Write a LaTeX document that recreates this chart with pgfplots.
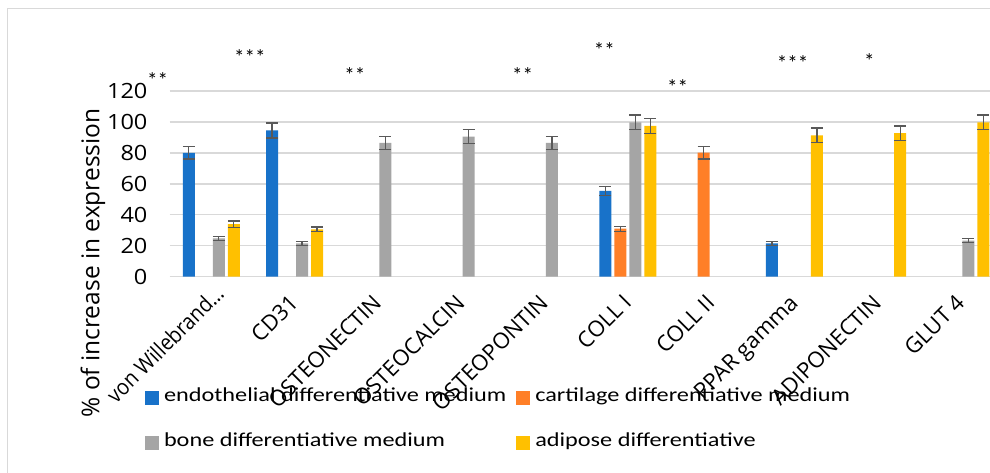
\documentclass[border=0pt]{standalone}
\usepackage{fontspec}
\setmainfont{Open Sans}
\newfontfamily\legfont{Carlito}[FakeStretch=1.225]
\newfontfamily\astfont{Carlito}
\newfontfamily\numfont{Open Sans}[FakeStretch=1.12]
\newfontfamily\narrowfont{Open Sans}[FakeStretch=0.9]
\usepackage{pgfplots}
\pgfplotsset{compat=1.18}
\definecolor{cblue}{RGB}{24,114,201}
\definecolor{corange}{RGB}{255,127,39}
\definecolor{cgray}{RGB}{165,165,165}
\definecolor{cyellow}{RGB}{255,192,0}
\definecolor{errgray}{RGB}{89,89,89}
\definecolor{gridgray}{RGB}{217,217,217}
\definecolor{framegray}{RGB}{217,217,217}
\newcommand{\vwlabel}{{\narrowfont von Willebrand\char"2026}\hspace*{-13pt}}
\begin{document}
\begin{tikzpicture}
\path[use as bounding box] (0,0) rectangle (990pt,472pt);
\clip (0,0) rectangle (990pt,472pt);
\fill[white] (0,0) rectangle (990pt,472pt);
\draw[framegray, line width=1.3pt] (7.3pt,-20pt) rectangle (1010pt,463.7pt);
\begin{axis}[
  at={(169.6pt,195.3pt)}, anchor=south west,
  scale only axis, width=833pt, height=185.7pt,
  xmin=-0.5, xmax=9.5, ymin=0, ymax=120,
  clip=false,
  ybar=3pt, bar width=12pt,
  ytick={0,20,40,60,80,100,120},
  xtick={0,1,2,3,4,5,6,7,8,9},
  xticklabels={\vwlabel, CD31, OSTEONECTIN, OSTEOCALCIN, OSTEOPONTIN, COLL I, COLL II, PPAR gamma, ADIPONECTIN, GLUT 4},
  xticklabel style={font=\fontsize{22pt}{26pt}\selectfont, inner sep=0pt, xshift=5pt, yshift=-27.5pt, rotate=45, anchor=base east},
  yticklabel style={font=\numfont\fontsize{21pt}{24pt}\selectfont, inner sep=0pt, anchor=east, xshift=-22pt},
  /pgf/number format/assume math mode=true,
  ymajorgrids, major grid style={gridgray, line width=1.3pt},
  axis line style={draw=none}, major tick length=0pt, tick style={draw=none},
  ylabel={\% of increase in expression},
  ylabel style={at={(axis description cs:-0.092,0.074)}, anchor=center, inner sep=0pt, font=\fontsize{24.5pt}{28pt}\selectfont},
  legend columns=2,
  legend cell align=left,
  legend image code/.code={\fill[#1,draw=none] (0pt,-7pt) rectangle (14pt,7pt);},
  legend style={at={(-0.02953,-0.6139)}, anchor=north west, draw=none, fill=none, inner sep=0pt, outer sep=0pt,
    row sep=31.3pt,
    nodes={inner sep=0pt, text height=0.7em, text depth=0pt, font=\legfont\fontsize{19.8pt}{24pt}\selectfont},
    /tikz/every odd column/.append style={column sep=5pt},
    /tikz/every even column/.append style={column sep=10pt}},
  error bars/y dir=both, error bars/y explicit,
  error bars/error bar style={errgray, line width=1.3pt},
  error bars/error mark options={errgray, line width=1.3pt, mark size=6pt, rotate=90},
]
\addplot[fill=cblue, draw=none] coordinates {(0,80) +- (0,4) (1,94.5) +- (0,4.8) (5,55.5) +- (0,2.9) (7,21.6) +- (0,1.3)};
\addplot[fill=corange, draw=none] coordinates {(5,31) +- (0,1.6) (6,80.1) +- (0,4.1)};
\addplot[fill=cgray, draw=none] coordinates {(0,24.8) +- (0,1.3) (1,21.6) +- (0,1.3) (2,86.5) +- (0,4.3) (3,90.5) +- (0,4.6) (4,86.5) +- (0,4.3) (5,99.7) +- (0,4.8) (9,23.3) +- (0,1.4)};
\addplot[fill=cyellow, draw=none] coordinates {(0,34) +- (0,2) (1,30.6) +- (0,1.6) (5,97.4) +- (0,5) (7,91.4) +- (0,4.6) (8,92.7) +- (0,4.6) (9,99.7) +- (0,4.8)};
\legend{endothelial differentiative medium, cartilage differentiative medium, bone differentiative medium, adipose differentiative}
\begin{scope}[every node/.style={font=\astfont\fontsize{21pt}{24pt}\selectfont, inner sep=0pt}]
\node at (axis cs:-0.645,127.3) {**};
\node at (axis cs:0.463,141.8) {***};
\node at (axis cs:1.724,130.5) {**};
\node at (axis cs:3.737,130.5) {**};
\node at (axis cs:4.718,146.2) {**};
\node at (axis cs:5.598,122.5) {**};
\node at (axis cs:6.978,138.2) {***};
\node at (axis cs:7.899,139.1) {*};
\end{scope}
\end{axis}
\end{tikzpicture}
\end{document}
